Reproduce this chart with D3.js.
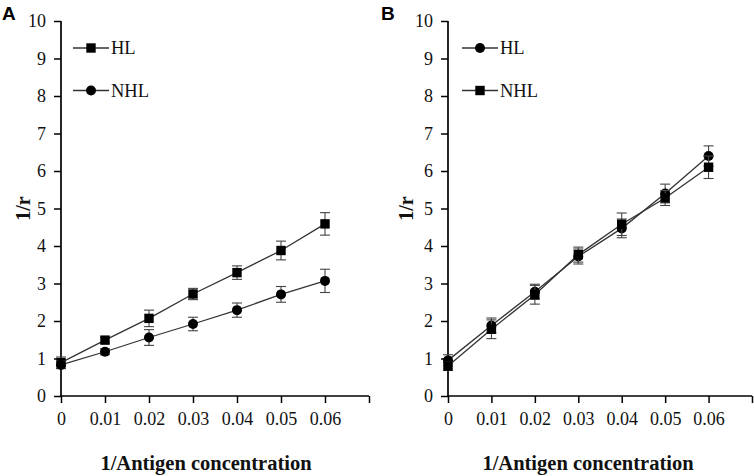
<!DOCTYPE html>
<html><head><meta charset="utf-8">
<script src="https://cdn.jsdelivr.net/npm/d3@7"></script>
<style>body{margin:0;background:#fff}svg{display:block}</style>
</head><body>
<svg id="c" width="754" height="476"></svg>
<script>
const xValues = [0, 0.01, 0.02, 0.03, 0.04, 0.05, 0.06];
const xTicks = [0, 0.01, 0.02, 0.03, 0.04, 0.05, 0.06, 0.07];
const xTickLabels = ["0", "0.01", "0.02", "0.03", "0.04", "0.05", "0.06", ""];
const yTicks = [0, 1, 2, 3, 4, 5, 6, 7, 8, 9, 10];

// Panel A
const aHL = [0.89, 1.49, 2.07, 2.72, 3.29, 3.88, 4.59];
const aHLerr = [0.15, 0.08, 0.22, 0.15, 0.18, 0.25, 0.3];
const aNHL = [0.83, 1.18, 1.56, 1.92, 2.29, 2.71, 3.07];
const aNHLerr = [0.1, 0.08, 0.21, 0.18, 0.19, 0.21, 0.31];

// Panel B
const bHL = [0.95, 1.88, 2.78, 3.72, 4.47, 5.40, 6.40];
const bHLerr = [0.15, 0.2, 0.2, 0.2, 0.25, 0.25, 0.27];
const bNHL = [0.80, 1.78, 2.70, 3.77, 4.58, 5.28, 6.10];
const bNHLerr = [0.12, 0.25, 0.25, 0.2, 0.3, 0.2, 0.3];

const panels = [
  {letter: "A", left: 61, right: 369, letterX: 2, titleX: 24,
   series: [
     {name: "HL", values: aHL, err: aHLerr, marker: "square"},
     {name: "NHL", values: aNHL, err: aNHLerr, marker: "circle"}],
   legendX: 73},
  {letter: "B", left: 448, right: 752, letterX: 381, titleX: 407,
   series: [
     {name: "HL", values: bHL, err: bHLerr, marker: "circle"},
     {name: "NHL", values: bNHL, err: bNHLerr, marker: "square"}],
   legendX: 462}
];

const svg = d3.select("#c");
const plotTop = 21, plotBottom = 396;
const serif = "'Liberation Serif','Times New Roman',serif";
const lineColor = "#333";

function drawMarker(g, type, x, y) {
  if (type === "square") {
    g.append("rect").attr("x", x - 4.7).attr("y", y - 4.7)
      .attr("width", 9.4).attr("height", 9.4).attr("fill", "#000");
  } else {
    g.append("circle").attr("cx", x).attr("cy", y).attr("r", 5).attr("fill", "#000");
  }
}

panels.forEach(p => {
  const g = svg.append("g");
  const x = d3.scaleLinear().domain([0, 0.07]).range([p.left, p.right]);
  const y = d3.scaleLinear().domain([0, 10]).range([plotBottom, plotTop]);

  const ya = g.append("g").attr("transform", `translate(${p.left},0)`)
    .call(d3.axisLeft(y).tickValues(yTicks).tickSize(7).tickPadding(8).tickFormat(d3.format("d")));
  const xa = g.append("g").attr("transform", `translate(0,${plotBottom})`)
    .call(d3.axisBottom(x).tickValues(xTicks).tickSize(7).tickPadding(9)
      .tickFormat((d, i) => xTickLabels[i]));
  [ya, xa].forEach(a => {
    a.select(".domain").remove();
    a.selectAll(".tick line").attr("stroke", "#000").attr("stroke-width", 1.5);
    a.selectAll(".tick text").attr("font-family", serif).attr("font-size", 18).attr("fill", "#111");
  });
  g.append("line").attr("x1", p.left).attr("x2", p.left).attr("y1", y(10)).attr("y2", y(0))
    .attr("stroke", "#000").attr("stroke-width", 1.7);
  g.append("line").attr("x1", p.left).attr("x2", p.right).attr("y1", y(0)).attr("y2", y(0))
    .attr("stroke", "#000").attr("stroke-width", 1.7);

  p.series.forEach(s => {
    const pts = xValues.map((xv, i) => ({x: xv, y: s.values[i], e: s.err[i]}));
    g.append("path").datum(pts)
      .attr("d", d3.line().x(d => x(d.x)).y(d => y(d.y)))
      .attr("fill", "none").attr("stroke", lineColor).attr("stroke-width", 1.3);
    pts.forEach(d => {
      const cx = x(d.x), y1 = y(d.y + d.e), y2 = y(d.y - d.e);
      g.append("line").attr("x1", cx).attr("x2", cx).attr("y1", y1).attr("y2", y2)
        .attr("stroke", "#444").attr("stroke-width", 1.1);
      [y1, y2].forEach(yy => g.append("line").attr("x1", cx - 5).attr("x2", cx + 5)
        .attr("y1", yy).attr("y2", yy).attr("stroke", "#444").attr("stroke-width", 1.1));
    });
    pts.forEach(d => drawMarker(g, s.marker, x(d.x), y(d.y)));
  });

  p.series.forEach((s, i) => {
    const ly = 48 + i * 42.5;
    g.append("line").attr("x1", p.legendX).attr("x2", p.legendX + 36)
      .attr("y1", ly).attr("y2", ly).attr("stroke", lineColor).attr("stroke-width", 1.3);
    drawMarker(g, s.marker, p.legendX + 18, ly);
    g.append("text").attr("x", p.legendX + 38).attr("y", ly + 6)
      .attr("font-family", serif).attr("font-size", 18.5).attr("fill", "#111").text(s.name);
  });

  g.append("text").attr("transform", `translate(${p.titleX + 6},${(plotTop + plotBottom) / 2}) rotate(-90)`)
    .attr("text-anchor", "middle").attr("font-family", serif).attr("font-weight", "bold")
    .attr("font-size", 20).attr("fill", "#111").text("1/r");
  g.append("text").attr("x", (p.left + p.right) / 2 - (p.letter === "A" ? 9 : 12)).attr("y", 470)
    .attr("text-anchor", "middle").attr("font-family", serif).attr("font-weight", "bold")
    .attr("font-size", 20.5).attr("fill", "#111").text("1/Antigen concentration");
  g.append("text").attr("x", p.letterX).attr("y", 20)
    .attr("font-family", "'Liberation Sans',Arial,sans-serif").attr("font-weight", "bold")
    .attr("font-size", 19).attr("fill", "#000").text(p.letter);
});
</script>
</body></html>
